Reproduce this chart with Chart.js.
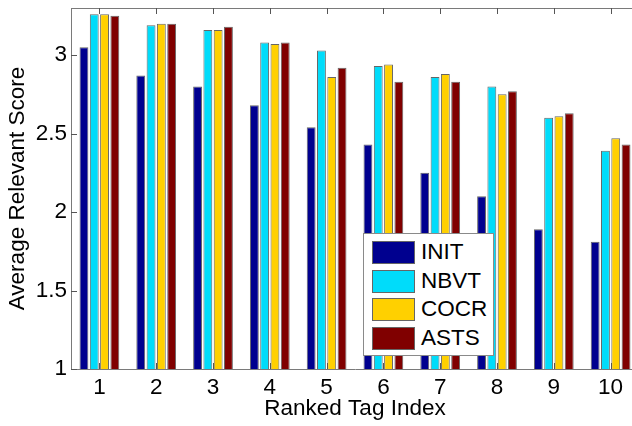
<!DOCTYPE html>
<html>
<head>
<meta charset="utf-8">
<script src="https://cdn.jsdelivr.net/npm/chart.js@4"></script>
<style>
  html, body { margin: 0; padding: 0; background: #fff; overflow: hidden; }
  #wrap { position: relative; width: 642px; height: 426px; }
  #legend {
    position: absolute; left: 363px; top: 233px; width: 129px; height: 121px;
    border: 1px solid #8a8a8a; background: #fff;
    font-family: Arial, "Liberation Sans", sans-serif; font-size: 22.5px; color: #000;
  }
  .row { position: absolute; left: 8px; height: 22px; }
  .sw { position: absolute; left: 0; top: 0; width: 41px; height: 21px; border: 1px solid #666; }
  .lb { position: absolute; left: 49px; top: -2px; line-height: 26px; white-space: nowrap; }
</style>
</head>
<body>
<div id="wrap">
  <canvas id="mycanvas"></canvas>
  <div id="legend"></div>
</div>
<script>
var categories = ['1', '2', '3', '4', '5', '6', '7', '8', '9', '10'];
var seriesNames = ['INIT', 'NBVT', 'COCR', 'ASTS'];
var init = [3.05, 2.87, 2.80, 2.68, 2.54, 2.43, 2.25, 2.10, 1.89, 1.81];
var nbvt = [3.26, 3.19, 3.16, 3.08, 3.03, 2.93, 2.86, 2.80, 2.60, 2.39];
var cocr = [3.26, 3.20, 3.16, 3.07, 2.86, 2.94, 2.88, 2.75, 2.61, 2.47];
var asts = [3.25, 3.20, 3.18, 3.08, 2.92, 2.83, 2.83, 2.77, 2.63, 2.43];
var yTicks = [1, 1.5, 2, 2.5, 3];

var colors = ['#00008f', '#00dcfa', '#ffd000', '#800000'];
var values = [init, nbvt, cocr, asts];
var axisFont = { family: 'Arial, "Liberation Sans", sans-serif', size: 22.5 };

var datasets = [];
for (var i in seriesNames) {
  datasets.push({
    label: seriesNames[i],
    data: values[i],
    backgroundColor: colors[i],
    borderColor: '#666666',
    borderWidth: 1,
    categoryPercentage: 0.725,
    barPercentage: 0.86
  });
}

// box top line + inward ticks like the original figure
var boxTicks = {
  id: 'boxTicks',
  afterDatasetsDraw: function(chart) {
    var ctx = chart.ctx, a = chart.chartArea;
    var xs = chart.scales.x, ys = chart.scales.y;
    ctx.save();
    ctx.strokeStyle = '#7a7a7a';
    ctx.lineWidth = 1;
    ctx.beginPath();
    ctx.moveTo(a.left, a.top + 0.5);
    ctx.lineTo(a.right, a.top + 0.5);
    ctx.stroke();
    ctx.strokeStyle = '#555';
    ctx.beginPath();
    for (var i = 0; i < xs.ticks.length; i++) {
      var x = Math.round(xs.getPixelForTick(i)) + 0.5;
      ctx.moveTo(x, a.bottom); ctx.lineTo(x, a.bottom - 6);
      ctx.moveTo(x, a.top); ctx.lineTo(x, a.top + 6);
    }
    for (var j = 0; j < ys.ticks.length; j++) {
      var y = Math.round(ys.getPixelForTick(j)) + 0.5;
      ctx.moveTo(a.left, y); ctx.lineTo(a.left + 6, y);
      ctx.moveTo(a.right, y); ctx.lineTo(a.right - 6, y);
    }
    ctx.stroke();
    ctx.restore();
  }
};

var ctx = document.getElementById('mycanvas');
var barGraph = new Chart(ctx, {
  type: 'bar',
  data: { labels: categories, datasets: datasets },
  options: {
    responsive: true,
    maintainAspectRatio: false,
    animation: false,
    layout: { padding: { top: 8, right: 3, left: 0, bottom: 0 } },
    plugins: { legend: { display: false }, tooltip: { enabled: false } },
    scales: {
      x: {
        grid: { display: false, drawTicks: false },
        border: { color: '#7a7a7a' },
        ticks: { color: '#000', font: axisFont, padding: 5, maxRotation: 0 },
        title: { display: true, text: 'Ranked Tag Index', color: '#000', font: axisFont, padding: { top: 0, bottom: 4 } },
        afterFit: function(s) { s.height = 57; s.paddingLeft = 0; s.paddingRight = 0; }
      },
      y: {
        min: 1,
        max: 3.3,
        grid: { display: false, drawTicks: false },
        border: { color: '#7a7a7a' },
        afterBuildTicks: function(s) { s.ticks = yTicks.map(function(v) { return { value: v }; }); },
        ticks: {
          color: '#000', font: axisFont, padding: 4,
          callback: function(v) { return String(v); }
        },
        title: { display: true, text: 'Average Relevant Score', color: '#000', font: axisFont, padding: { top: 4, bottom: 0 } },
        afterFit: function(s) { s.width = 71; s.paddingTop = 0; s.paddingBottom = 0; }
      }
    }
  },
  plugins: [boxTicks]
});

// legend inside the plot, built from the datasets
var leg = document.getElementById('legend');
for (var k in seriesNames) {
  var row = document.createElement('div');
  row.className = 'row';
  row.style.top = (7 + k * 28.7) + 'px';
  row.innerHTML = '<div class="sw" style="background:' + colors[k] + '"></div><div class="lb">' + seriesNames[k] + '</div>';
  leg.appendChild(row);
}
</script>
</body>
</html>
